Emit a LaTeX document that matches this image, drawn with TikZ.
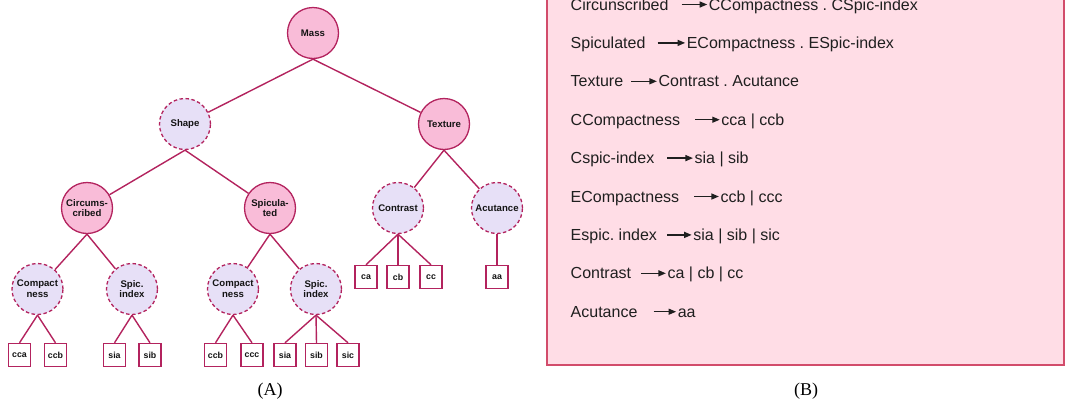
\documentclass[tikz,border=0pt]{standalone}
\usepackage{fontspec}
\setmainfont{Liberation Sans}
\newfontfamily\capfont{Liberation Serif}
\usetikzlibrary{arrows.meta}
\definecolor{edgecol}{HTML}{B3235E}
\definecolor{pinkfill}{HTML}{F9BCD8}
\definecolor{lilacfill}{HTML}{E7E0F7}
\definecolor{boxfill}{HTML}{FFDDE6}
\definecolor{boxline}{HTML}{D24C6B}
\frenchspacing
\begin{document}
\begin{tikzpicture}[x=1pt, y=-1pt,
  attr/.style={circle, minimum size=51pt, inner sep=0pt, draw=edgecol, line width=1.3pt, fill=pinkfill, align=center, text=black!92, font=\fontsize{9.6}{10.8}\selectfont\bfseries},
  opt/.style={attr, fill=lilacfill, dash pattern=on 3.5pt off 2.5pt},
  leaf/.style={rectangle, minimum width=22pt, minimum height=23pt, inner sep=0pt, draw=edgecol, line width=1.4pt, fill=white, text=black!92, font=\fontsize{8.8}{10}\selectfont\bfseries},
  link/.style={draw=edgecol, line width=1.4pt},
  rule/.style={anchor=base west, inner sep=0pt, text=black!88, font=\fontsize{16}{19}\selectfont},
  rarr/.style={-{Triangle[length=7.5pt,width=6pt]}, line width=1.3pt, black!88}]
\useasboundingbox (0,0) rectangle (1068,405);
\clip (0,0) rectangle (1068,405);
\node[attr] (mass) at (313,33){Mass};
\node[opt] (shape) at (185,124){Shape};
\node[attr] (texture) at (444,124){Texture};
\node[attr] (circ) at (87,208){Circums-\\cribed};
\node[attr] (spic) at (270,208){Spicula-\\ted};
\node[opt] (contr) at (398,208){Contrast};
\node[opt] (acut) at (497,208){Acutance};
\node[opt] (ccomp) at (37.5,289){Compact\\ness};
\node[opt] (cidx) at (132,289){Spic.\\index};
\node[opt] (ecomp) at (233,289){Compact\\ness};
\node[opt] (eidx) at (316,289){Spic.\\index};
\node[leaf] (cca) at (19.5,355){cca};
\node[leaf] (ccb) at (55.5,355){ccb};
\node[leaf] (csia) at (114.5,355){sia};
\node[leaf] (csib) at (150,355){sib};
\node[leaf] (eccb) at (215.5,355){ccb};
\node[leaf] (eccc) at (252,355){ccc};
\node[leaf] (esia) at (285,355){sia};
\node[leaf] (esib) at (316.5,355){sib};
\node[leaf] (esic) at (348,355){sic};
\node[leaf] (ca) at (366,277){ca};
\node[leaf] (cb) at (398,277){cb};
\node[leaf] (cc) at (431,277){cc};
\node[leaf] (aa) at (497,277){aa};
\draw[link](mass.south) -- (shape);
\draw[link](mass.south) -- (texture);
\draw[link](shape.south) -- (circ);
\draw[link](shape.south) -- (spic);
\draw[link](texture.south) -- (contr);
\draw[link](texture.south) -- (acut);
\draw[link](circ.south) -- (ccomp);
\draw[link](circ.south) -- (cidx);
\draw[link](spic.south) -- (ecomp);
\draw[link](spic.south) -- (eidx);
\foreach \p/\c in {ccomp/cca, ccomp/ccb, cidx/csia, cidx/csib, ecomp/eccb, ecomp/eccc, eidx/esia, eidx/esib, eidx/esic, contr/ca, contr/cb, contr/cc, acut/aa}
  \draw[link](\p.south) -- (\c.north);
\node[font=\capfont\fontsize{18}{20}\selectfont] (capa) at (270,391){(A)};
\draw[draw=boxline, fill=boxfill, line width=1.6pt] (547,-5) rectangle (1064,365);
\foreach \i/\l/\r/\d/\g in {1/Circunscribed/CCompactness . CSpic-index/40/13, 2/Spiculated/ECompactness . ESpic-index/41/12, 3/Texture/Contrast . Acutance/35/8, 4/CCompactness/cca | ccb/41/15, 5/Cspic-index/sia | sib/40/13, 6/ECompactness/ccb | ccc/41/15, 7/Espic. index/sia | sib | sic/36/10, 8/Contrast/ca | cb | cc/36/10, 9/Acutance/aa/40/16}{
  \node[rule] (l\i) at (570.5,{10+38.4*(\i-1)}){\l};
  \node[rule] (r\i) at ([xshift=\d pt]l\i.base east){\r};
  \draw[rarr, shorten <=\g pt, shorten >=1.5pt] ([yshift=5.5pt]l\i.base east) -- ([yshift=5.5pt]r\i.base west);
}
\node[font=\capfont\fontsize{18}{20}\selectfont] (capb) at (806,391){(B)};
\end{tikzpicture}
\end{document}
